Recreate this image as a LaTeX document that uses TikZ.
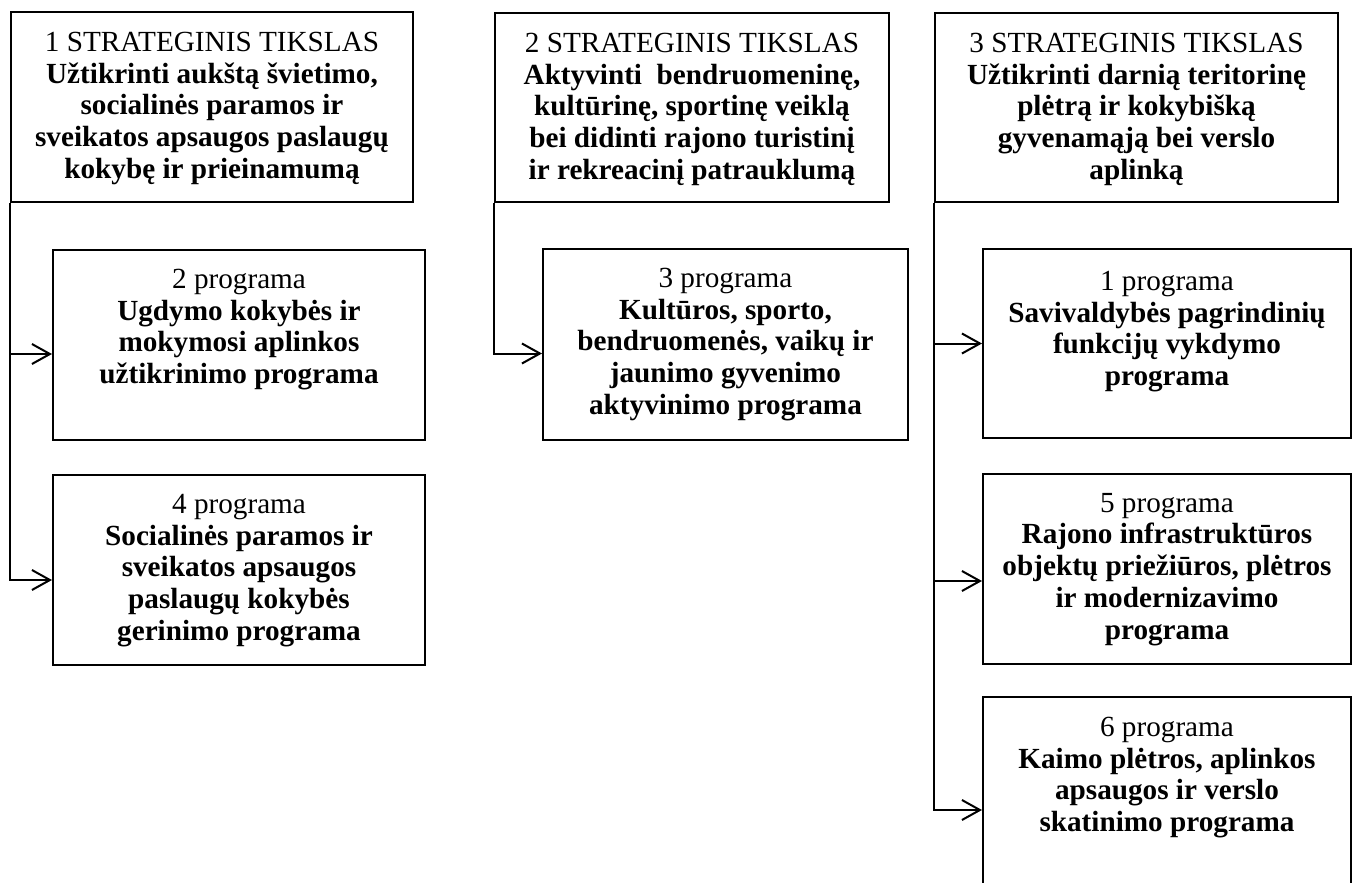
\documentclass[tikz,border=0pt]{standalone}
\usepackage{fontspec}
\setmainfont{Liberation Serif}
\usetikzlibrary{arrows.meta}

\newcommand{\boxtext}[4]{\parbox[c][#2][t]{#1}{\centering\vspace*{#3}#4}}

\begin{document}
\begin{tikzpicture}[x=0.5pt, y=-0.5pt, line width=1pt,
    box/.style={draw, inner sep=0pt, anchor=north west, font=\fontsize{14.6}{15.9}\selectfont},
    link/.style={-{Straight Barb[length=9pt,width=10pt]}}]
    \clip (0,0) rectangle (1354,883);

    % Nodes
    \node[box] (g1) at (10,11) {\boxtext{201pt}{95pt}{10pt}{1 STRATEGINIS TIKSLAS\\
        {\bfseries Užtikrinti aukštą švietimo,\\ socialinės paramos ir\\ sveikatos apsaugos paslaugų\\ kokybę ir prieinamumą}}};
    \node[box] (g2) at (494,12) {\boxtext{197pt}{94.5pt}{10pt}{2 STRATEGINIS TIKSLAS\\
        {\bfseries Aktyvinti~ bendruomeninę,\\ kultūrinę, sportinę veiklą\\ bei didinti rajono turistinį\\ ir rekreacinį patrauklumą}}};
    \node[box] (g3) at (934,12) {\boxtext{201.5pt}{94.5pt}{10pt}{3 STRATEGINIS TIKSLAS\\
        {\bfseries Užtikrinti darnią teritorinę\\ plėtrą ir kokybišką\\ gyvenamąją bei verslo\\ aplinką}}};

    \node[box] (p2) at (52,249) {\boxtext{186pt}{95pt}{9.5pt}{2 programa\\
        {\bfseries Ugdymo kokybės ir\\ mokymosi aplinkos\\ užtikrinimo programa}}};
    \node[box] (p4) at (52,474) {\boxtext{186pt}{95pt}{9.5pt}{4 programa\\
        {\bfseries Socialinės paramos ir\\ sveikatos apsaugos\\ paslaugų kokybės\\ gerinimo programa}}};
    \node[box] (p3) at (542,248) {\boxtext{182.5pt}{95.5pt}{9.5pt}{3 programa\\
        {\bfseries Kultūros, sporto,\\ bendruomenės, vaikų ir\\ jaunimo gyvenimo\\ aktyvinimo programa}}};
    \node[box] (p1) at (982,248) {\boxtext{184pt}{94.5pt}{11pt}{1 programa\\
        {\bfseries Savivaldybės pagrindinių\\ funkcijų vykdymo\\ programa}}};
    \node[box] (p5) at (982,473) {\boxtext{184pt}{95pt}{9.5pt}{5 programa\\
        {\bfseries Rajono infrastruktūros\\ objektų priežiūros, plėtros\\ ir modernizavimo\\ programa}}};
    \node[box] (p6) at (982,696) {\boxtext{184pt}{100pt}{10pt}{6 programa\\
        {\bfseries Kaimo plėtros, aplinkos\\ apsaugos ir verslo\\ skatinimo programa}}};

    % Edges
    \draw[link] (g1.south west) |- ([yshift=-4.5pt]p2.west);
    \draw[link] (g1.south west) |- ([yshift=-5pt]p4.west);
    \draw[link] (g2.south west) |- ([yshift=-4.5pt]p3.west);
    \draw[link] (g3.south west) |- (p1.west);
    \draw[link] (g3.south west) |- ([yshift=-6pt]p5.west);
    \draw[link] (g3.south west) |- ([yshift=-57pt]p6.north west);
\end{tikzpicture}
\end{document}
